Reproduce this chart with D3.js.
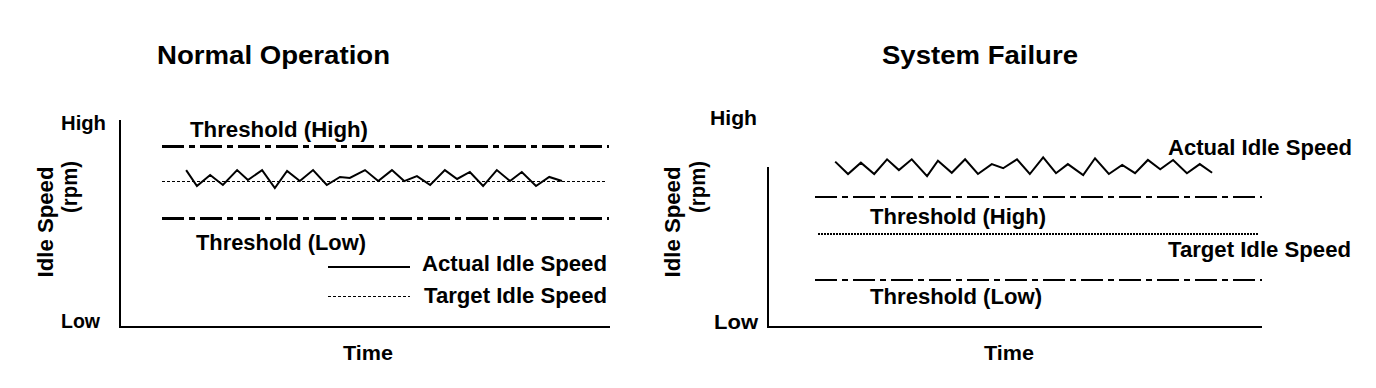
<!DOCTYPE html>
<html>
<head>
<meta charset="utf-8">
<script src="https://cdn.jsdelivr.net/npm/d3@7"></script>
<style>
  body { margin: 0; background: #fff; }
  text { font-family: "Liberation Sans", Arial, sans-serif; font-weight: bold; fill: #000; }
</style>
</head>
<body>
<div id="chart"></div>
<script>
// values are on a schematic 0..100 scale (Low..High, start..end of time)
const yTickLabels = ["Low", "High"];
const titles = ["Normal Operation", "System Failure"];

const normalTime = [13.5, 15.7, 18.4, 21.0, 23.9, 26.1, 29.0, 31.6, 34.1, 36.7, 39.4, 42.2, 44.9, 46.9, 50.0,
    52.7, 55.5, 58.0, 60.6, 63.3, 66.3, 68.8, 71.4, 74.1, 76.9, 79.6, 82.0, 84.9, 87.6, 90.2];
const normalActual = [75.8, 68.1, 73.4, 68.6, 75.8, 71.0, 75.8, 67.1, 75.4, 70.5, 75.8, 68.6, 72.5, 72.0, 75.8,
    70.5, 75.8, 70.5, 72.9, 68.6, 75.8, 71.5, 74.9, 68.1, 75.8, 70.5, 74.9, 68.1, 72.5, 70.5];
const normalTarget = 70.5;
const normalThresholdHigh = 87.0;
const normalThresholdLow = 52.2;
const normalSpan = [8.6, 99.8];
const normalTargetSpan = [8.6, 99.0];

const failureTime = [13.6, 16.2, 18.8, 21.5, 24.1, 26.5, 29.1, 32.2, 34.4, 37.2, 39.9, 42.5, 45.3, 47.6, 50.4,
    53.0, 55.7, 58.3, 60.7, 63.8, 66.2, 69.0, 71.7, 74.3, 76.9, 79.4, 82.0, 84.8, 87.4, 89.9];
const failureActual = [79.9, 73.9, 79.4, 73.9, 81.0, 75.8, 81.0, 72.9, 80.3, 74.5, 81.0, 73.9, 78.7, 76.7, 81.0,
    73.9, 82.0, 74.3, 78.7, 73.4, 81.5, 73.9, 78.3, 74.3, 80.7, 76.2, 80.7, 74.3, 78.7, 74.5];
const failureTarget = 44.9;
const failureThresholdHigh = 62.8;
const failureThresholdLow = 22.7;
const failureSpan = [9.5, 100];
const failureTargetSpan = [10.1, 99.2];
const failureAxisTop = 77.3;

const svg = d3.select("#chart")
    .append("svg")
    .attr("width", 1376)
    .attr("height", 388);

const dashDot = "22,5,6,5";
const dotted = "3,2";

function label(str, x, y, size, len) {
    return svg.append("text")
        .attr("x", x)
        .attr("y", y)
        .attr("font-size", size)
        .attr("textLength", len)
        .attr("lengthAdjust", "spacingAndGlyphs")
        .text(str);
}

function vlabel(str, cx, cy, size, len) {
    svg.append("text")
        .attr("transform", `translate(${cx},${cy}) rotate(-90)`)
        .attr("text-anchor", "middle")
        .attr("font-size", size)
        .attr("textLength", len)
        .attr("lengthAdjust", "spacingAndGlyphs")
        .text(str);
}

function hline(x, y, span, value, width, dash) {
    svg.append("line")
        .attr("x1", x(span[0]))
        .attr("x2", x(span[1]))
        .attr("y1", y(value))
        .attr("y2", y(value))
        .attr("stroke", "#000")
        .attr("stroke-width", width)
        .attr("stroke-dasharray", dash)
        .attr("shape-rendering", "crispEdges");
}

function zigzag(x, y, times, values) {
    const line = d3.line()
        .x((d, i) => x(times[i]))
        .y(d => y(d));
    svg.append("path")
        .datum(values)
        .attr("d", line)
        .attr("fill", "none")
        .attr("stroke", "#000")
        .attr("stroke-width", 2)
        .attr("stroke-linejoin", "miter");
}

const y = d3.scaleLinear().domain([0, 100]).range([327, 120]);

// ---- left: normal operation
const xL = d3.scaleLinear().domain([0, 100]).range([120, 610]);

svg.append("path")
    .attr("d", `M${xL(0)},${y(100)}V${y(0)}H${xL(100)}`)
    .attr("fill", "none")
    .attr("stroke", "#000")
    .attr("stroke-width", 2)
    .attr("shape-rendering", "crispEdges");

label(titles[0], 157, 64, 26, 233);
label(yTickLabels[1], 61, 130, 20, 45);
label(yTickLabels[0], 61, 328, 20, 39);
vlabel("Idle Speed", 53, 222, 22, 111);
vlabel("(rpm)", 77, 187, 22, 52);
label("Time", 343, 360, 21, 50);

hline(xL, y, normalSpan, normalThresholdHigh, 3, dashDot);
hline(xL, y, normalSpan, normalThresholdLow, 3, dashDot);
hline(xL, y, normalTargetSpan, normalTarget, 1, dotted);
zigzag(xL, y, normalTime, normalActual);

label("Threshold (High)", 190, 137, 22, 178);
label("Threshold (Low)", 196, 250, 22, 170);

// legend
svg.append("line").attr("x1", 328).attr("x2", 410).attr("y1", 267).attr("y2", 267)
    .attr("stroke", "#000").attr("stroke-width", 1.5).attr("shape-rendering", "crispEdges");
svg.append("line").attr("x1", 328).attr("x2", 410).attr("y1", 296).attr("y2", 296)
    .attr("stroke", "#000").attr("stroke-width", 1).attr("stroke-dasharray", dotted)
    .attr("shape-rendering", "crispEdges");
label("Actual Idle Speed", 422, 271, 22, 185);
label("Target Idle Speed", 424, 303, 22, 183);

// ---- right: system failure
const xR = d3.scaleLinear().domain([0, 100]).range([768, 1262]);

svg.append("path")
    .attr("d", `M${xR(0)},${y(failureAxisTop)}V${y(0)}H${xR(100)}`)
    .attr("fill", "none")
    .attr("stroke", "#000")
    .attr("stroke-width", 2)
    .attr("shape-rendering", "crispEdges");

label(titles[1], 882, 64, 26, 196);
label(yTickLabels[1], 710, 125, 20, 47);
label(yTickLabels[0], 714, 329, 20, 44);
vlabel("Idle Speed", 680, 222, 22, 111);
vlabel("(rpm)", 705, 187, 22, 52);
label("Time", 984, 360, 21, 50);

hline(xR, y, failureSpan, failureThresholdHigh, 2, dashDot);
hline(xR, y, failureSpan, failureThresholdLow, 2, dashDot);
hline(xR, y, failureTargetSpan, failureTarget, 2, "2,1");
zigzag(xR, y, failureTime, failureActual);

label("Actual Idle Speed", 1168, 155, 22, 184);
label("Threshold (High)", 870, 224, 22, 176);
label("Target Idle Speed", 1168, 257, 22, 183);
label("Threshold (Low)", 870, 304, 22, 172);
</script>
</body>
</html>
